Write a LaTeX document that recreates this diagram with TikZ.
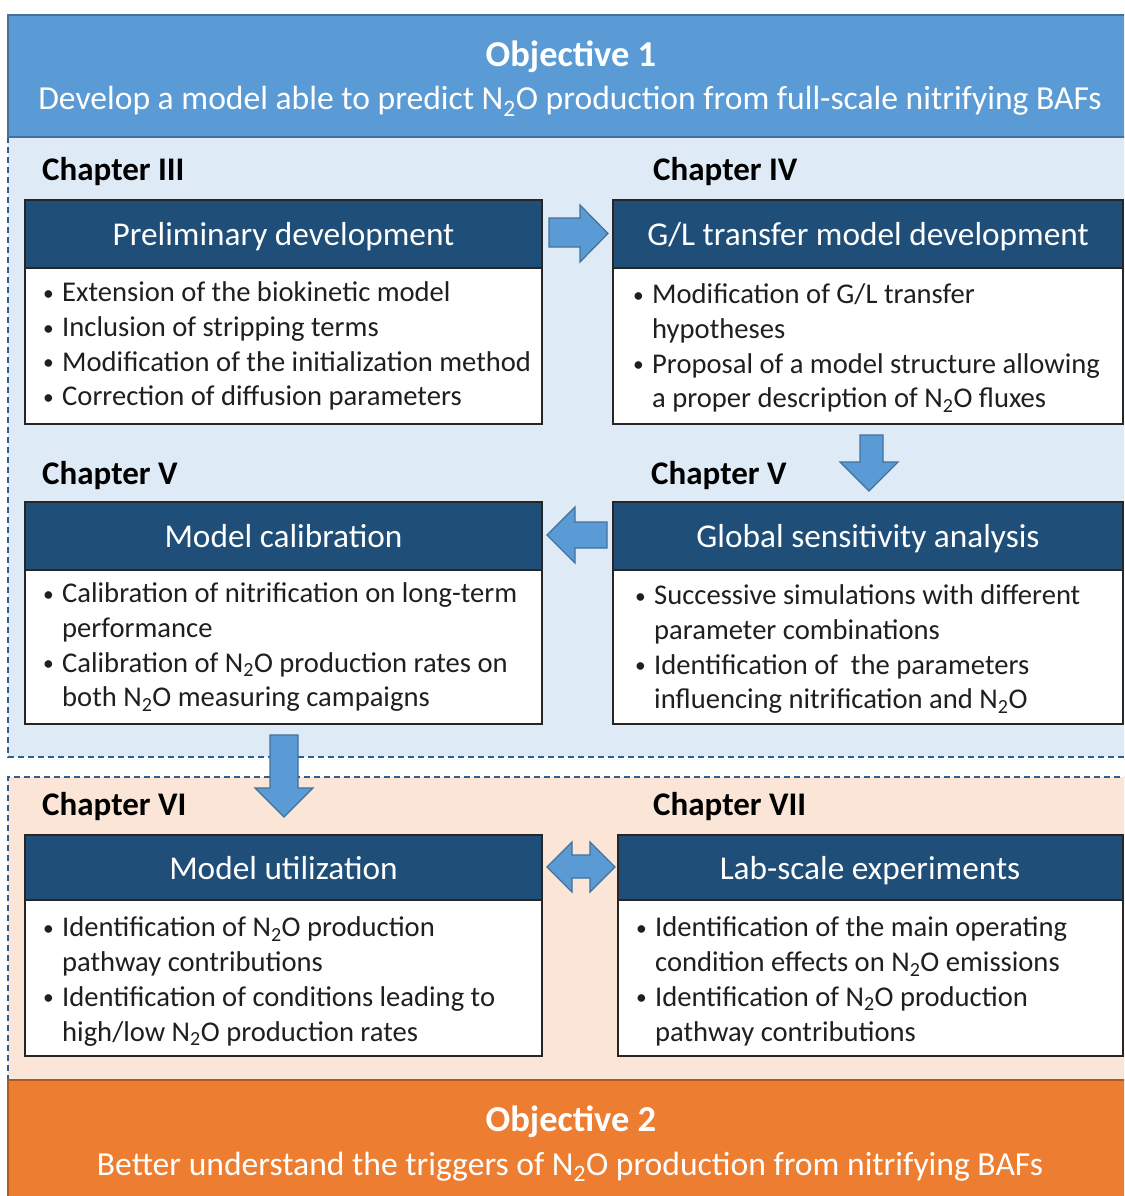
\documentclass[tikz,border=0pt]{standalone}
\usepackage{fontspec}
\setmainfont{Carlito}
\definecolor{objblue}{HTML}{5B9BD5}
\definecolor{objblueline}{HTML}{41719C}
\definecolor{lightblue}{HTML}{DEEBF7}
\definecolor{peach}{HTML}{FBE5D6}
\definecolor{objorange}{HTML}{ED7D31}
\definecolor{objorangeline}{HTML}{AE5A21}
\definecolor{hdrblue}{HTML}{1F4E79}
\definecolor{boxline}{HTML}{262626}
\definecolor{dashline}{HTML}{2E5F8E}
\newcommand\bul{\makebox[20pt][l]{\hspace{1pt}\raisebox{1.5pt}{\scalebox{0.75}{\textbullet}}}}
\newcommand\cnt{\hspace*{20pt}}
\newcommand\NtwoO{N\textsubscript{2}O}
\tikzset{
  hdr/.style={draw=boxline, line width=1.5pt, fill=hdrblue},
  bodybox/.style={draw=boxline, line width=1.5pt, fill=white},
  hdrtext/.style={text=white, font=\fontsize{33.3}{36}\selectfont, anchor=base, inner sep=0pt},
  chap/.style={font=\bfseries\fontsize{33}{36}\selectfont, anchor=base west, inner sep=0pt},
  bullets/.style={font=\fontsize{28.6}{34.7}\selectfont, align=left, anchor=north west, inner sep=0pt, text=black!88},
  objtitle/.style={text=white, font=\bfseries\fontsize{36.5}{40}\selectfont, inner sep=0pt, anchor=base},
  objsub/.style={text=white, font=\fontsize{33.6}{36}\selectfont, inner sep=0pt, anchor=base},
  blockarrow/.style={fill=objblue, draw=objblueline, line width=1.2pt, line join=miter},
  dashedge/.style={draw=dashline, line width=1.3pt, dash pattern=on 6pt off 4pt},
}
\begin{document}
\begin{tikzpicture}[x=1pt,y=-1pt]
\useasboundingbox (0,0) rectangle (1124,1196);
\clip (0,0) rectangle (1124,1196);
% regions
\fill[lightblue] (8,137) rectangle (1130,757);
\draw[dashedge] (8,137) -- (8,757) -- (1130,757);
\fill[peach] (8,777) rectangle (1130,1080);
\draw[dashedge] (1130,777) -- (8,777) -- (8,1080);
% objective 1
\draw[fill=objblue, draw=objblueline, line width=1.5pt] (8,15) rectangle (1135,137);
\node[objtitle] (obj1t) at (571,67) {Objective 1};
\node[objsub] (obj1s) at (570,110) {Develop a model able to predict \NtwoO{} production from full-scale nitrifying BAFs};
% objective 2
\draw[fill=objorange, draw=objorangeline, line width=1.5pt] (8,1080) rectangle (1135,1205);
\node[objtitle] (obj2t) at (571,1131) {Objective 2};
\node[objsub] (obj2s) at (570,1175) {Better understand the triggers of \NtwoO{} production from nitrifying BAFs};
% chapter labels
\node[chap] (c3) at (42,180.7) {Chapter III};
\node[chap] (c4) at (653,180.7) {Chapter IV};
\node[chap] (c5a) at (42,484) {Chapter V};
\node[chap] (c5b) at (651,484) {Chapter V};
\node[chap] (c6) at (42,815) {Chapter VI};
\node[chap] (c7) at (653,815) {Chapter VII};
% box 1
\draw[bodybox] (25,268) rectangle (542,424);
\draw[hdr] (25,200) rectangle (542,268);
\node[hdrtext] (h1) at (283.5,245) {Preliminary development};
\node[bullets] (b1) at (42,277.4) {\strut\bul Extension of the biokinetic model\\\bul Inclusion of stripping terms\\\bul Modification of the initialization method\\\bul Correction of diffusion parameters};
% box 2
\draw[bodybox] (613,268) rectangle (1123,424);
\draw[hdr] (613,200) rectangle (1123,268);
\node[hdrtext] (h2) at (868,245) {G/L transfer model development};
\node[bullets] (b2) at (632,279.2) {\strut\bul Modification of G/L transfer\\\cnt hypotheses\\\bul Proposal of a model structure allowing\\\cnt a proper description of \NtwoO{} fluxes};
% box 3
\draw[bodybox] (25,570) rectangle (542,724);
\draw[hdr] (25,502) rectangle (542,570);
\node[hdrtext] (h3) at (283.5,547) {Model calibration};
\node[bullets] (b3) at (42,578.4) {\strut\bul Calibration of nitrification on long-term\\\cnt performance\\\bul Calibration of \NtwoO{} production rates on\\\cnt both \NtwoO{} measuring campaigns};
% box 4
\draw[bodybox] (613,570) rectangle (1123,724);
\draw[hdr] (613,502) rectangle (1123,570);
\node[hdrtext] (h4) at (868,547) {Global sensitivity analysis};
\node[bullets] (b4) at (634,580.2) {\strut\bul Successive simulations with different\\\cnt parameter combinations\\\bul Identification of~ the parameters\\\cnt influencing nitrification and \NtwoO};
% box 5
\draw[bodybox] (25,900) rectangle (542,1056);
\draw[hdr] (25,835) rectangle (542,900);
\node[hdrtext] (h5) at (283.5,879) {Model utilization};
\node[bullets] (b5) at (42,912.4) {\strut\bul Identification of \NtwoO{} production\\\cnt pathway contributions\\\bul Identification of conditions leading to\\\cnt high/low \NtwoO{} production rates};
% box 6
\draw[bodybox] (618,900) rectangle (1123,1056);
\draw[hdr] (618,835) rectangle (1123,900);
\node[hdrtext] (h6) at (870,879) {Lab-scale experiments};
\node[bullets] (b6) at (635,912.4) {\strut\bul Identification of the main operating\\\cnt condition effects on \NtwoO{} emissions\\\bul Identification of \NtwoO{} production\\\cnt pathway contributions};
% block arrows
\draw[blockarrow] (549,218) -- (580,218) -- (580,205) -- (608,233.5) -- (580,262) -- (580,247) -- (549,247) -- cycle;
\draw[blockarrow] (860,435) -- (883,435) -- (883,462) -- (898,462) -- (869,491) -- (840,462) -- (860,462) -- cycle;
\draw[blockarrow] (607,522) -- (575,522) -- (575,507) -- (547,535) -- (575,563) -- (575,548) -- (607,548) -- cycle;
\draw[blockarrow] (270,735) -- (298,735) -- (298,788) -- (313,788) -- (284,817) -- (255,788) -- (270,788) -- cycle;
\draw[blockarrow] (547,867) -- (572,842) -- (572,855) -- (590,855) -- (590,842) -- (615,867) -- (590,892) -- (590,878) -- (572,878) -- (572,892) -- cycle;
\end{tikzpicture}
\end{document}
